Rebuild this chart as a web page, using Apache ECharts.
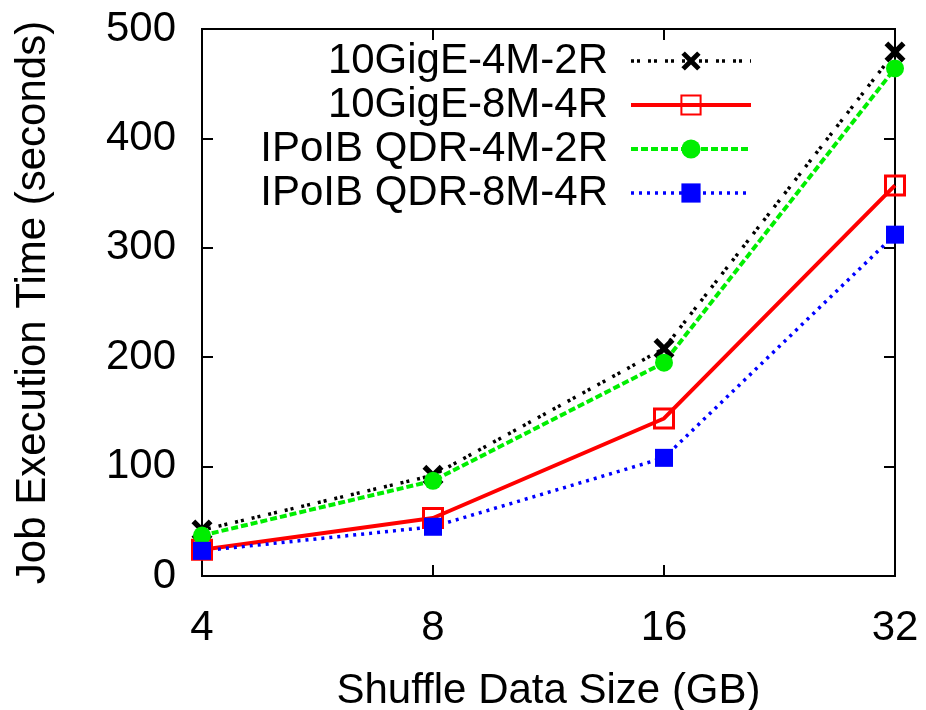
<!DOCTYPE html>
<html>
<head>
<meta charset="utf-8">
<script src="https://cdn.jsdelivr.net/npm/echarts@6/dist/echarts.min.js"></script>
<style>
  html, body { margin: 0; padding: 0; background: #fff; }
  #chart { width: 926px; height: 710px; }
</style>
</head>
<body>
<div id="chart"></div>
<script>
// Shuffle data sizes (GB) on the x axis
const sizes = ['4', '8', '16', '32'];
// Job execution time (seconds) per configuration
const tenGig4M2R = [42, 92, 208, 479];
const tenGig8M4R = [24, 53, 144, 357];
const ipoib4M2R = [37, 87, 195, 464];
const ipoib8M4R = [23, 45, 108, 312];
const seriesNames = ['10GigE-4M-2R', '10GigE-8M-4R', 'IPoIB QDR-4M-2R', 'IPoIB QDR-8M-4R'];
const yTicks = { min: 0, max: 500, interval: 100 };

const FONT = "'Liberation Sans', Arial, Helvetica, sans-serif";
const crossPath = 'path://M0,1.8 L1.8,0 L5,3.2 L8.2,0 L10,1.8 L6.8,5 L10,8.2 L8.2,10 L5,6.8 L1.8,10 L0,8.2 L3.2,5 Z';

const W = 926, H = 710;
const GRID = { left: 202, right: 31, top: 29, bottom: 134 };
const plotW = W - GRID.left - GRID.right;
const plotH = H - GRID.top - GRID.bottom;

const chart = echarts.init(document.getElementById('chart'), null, { renderer: 'canvas' });

// Outward ticks of an axis moved onto the opposite edge point into the plot.
function innerTicks() { return { show: true, inside: false, length: 11, lineStyle: { color: '#000', width: 2 } }; }
const noLine = { show: false, onZero: false };

function tickX(gridIndex, position) {
  return {
    gridIndex: gridIndex, type: 'category', data: sizes, boundaryGap: false,
    position: position, offset: -plotH,
    axisLine: noLine, axisTick: innerTicks(), axisLabel: { show: false }, splitLine: { show: false }
  };
}
function tickY(gridIndex, position) {
  return {
    gridIndex: gridIndex, type: 'value', min: yTicks.min, max: yTicks.max, interval: yTicks.interval,
    position: position, offset: -plotW,
    axisLine: noLine, axisTick: innerTicks(), axisLabel: { show: false }, splitLine: { show: false }
  };
}

const frameGrid = Object.assign({
  outerBoundsMode: 'none', containLabel: false,
  show: true, borderColor: '#000', borderWidth: 2, backgroundColor: 'transparent'
}, GRID);
const tickGrid = Object.assign({ outerBoundsMode: 'none', containLabel: false, show: false }, GRID);

chart.setOption({
  backgroundColor: '#fff',
  animation: false,
  textStyle: { fontFamily: FONT },
  grid: [frameGrid, tickGrid],
  legend: {
    orient: 'vertical',
    right: 168,
    top: 34,
    align: 'right',
    itemWidth: 120,
    itemHeight: 24,
    itemGap: 0,
    selectedMode: false,
    lineStyle: { width: 'inherit' },
    textStyle: { fontSize: 42, color: '#000', fontFamily: FONT, lineHeight: 44, padding: [0, 18, 0, 0] },
    data: seriesNames
  },
  xAxis: [
    {
      gridIndex: 0,
      type: 'category',
      data: sizes,
      boundaryGap: false,
      position: 'bottom',
      axisLine: noLine,
      axisTick: { show: false },
      axisLabel: { fontSize: 42, color: '#000', fontFamily: FONT, margin: 31 },
      splitLine: { show: false },
      name: 'Shuffle Data Size (GB)',
      nameLocation: 'middle',
      nameGap: 94,
      nameTextStyle: { fontSize: 42, color: '#000', fontFamily: FONT }
    },
    tickX(0, 'top'),      // sits on the bottom edge, ticks pointing up
    tickX(1, 'bottom')    // sits on the top edge, ticks pointing down
  ],
  yAxis: [
    {
      gridIndex: 0,
      type: 'value',
      min: yTicks.min,
      max: yTicks.max,
      interval: yTicks.interval,
      position: 'left',
      axisLine: noLine,
      axisTick: { show: false },
      axisLabel: { fontSize: 42, color: '#000', fontFamily: FONT, margin: 26 },
      splitLine: { show: false },
      name: 'Job Execution Time (seconds)',
      nameLocation: 'middle',
      nameGap: 148,
      nameTextStyle: { fontSize: 42, color: '#000', fontFamily: FONT }
    },
    tickY(0, 'right'),    // sits on the left edge, ticks pointing right
    tickY(1, 'left')      // sits on the right edge, ticks pointing left
  ],
  series: [
    {
      name: seriesNames[0],
      type: 'line',
      data: tenGig4M2R,
      symbol: crossPath,
      symbolSize: 21,
      itemStyle: { color: '#000' },
      lineStyle: { color: '#000', width: 3.5, type: [3, 3, 3, 8] }
    },
    {
      name: seriesNames[1],
      type: 'line',
      data: tenGig8M4R,
      symbol: 'rect',
      symbolSize: 19,
      itemStyle: { color: 'rgba(255,255,255,0)', borderColor: '#ff0000', borderWidth: 3 },
      lineStyle: { color: '#ff0000', width: 4, type: 'solid' }
    },
    {
      name: seriesNames[2],
      type: 'line',
      data: ipoib4M2R,
      symbol: 'circle',
      symbolSize: 18,
      itemStyle: { color: '#00ee00' },
      lineStyle: { color: '#00ee00', width: 4, type: [7, 3] }
    },
    {
      name: seriesNames[3],
      type: 'line',
      data: ipoib8M4R,
      symbol: 'rect',
      symbolSize: 18,
      itemStyle: { color: '#0000ff' },
      lineStyle: { color: '#0000ff', width: 3.5, type: [3, 5] }
    }
  ]
});
</script>
</body>
</html>
